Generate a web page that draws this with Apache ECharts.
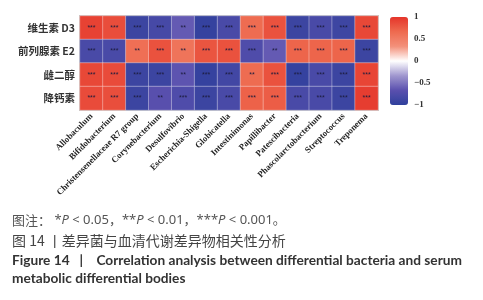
<!DOCTYPE html>
<html>
<head>
<meta charset="utf-8">
<script src="https://cdn.jsdelivr.net/npm/echarts@6/dist/echarts.min.js"></script>
<style>
html,body{margin:0;padding:0;background:#fff;}
#chart{width:483px;height:300px;}
</style>
</head>
<body>
<div id="chart"></div>
<script>
// 菌属（横轴）
var bacteria = ['Allobaculum', 'Bifidobacterium', 'Christensenellaceae R7 group', 'Corynebacterium',
	'Desulfovibrio', 'Escherichia-Shigella', 'Globicatella', 'Intestinimonas', 'Papillibacter',
	'Patescibacteria', 'Phascolarctobacterium', 'Streptococcus', 'Treponema'];
// 代谢物（纵轴，从上到下）
var metabolites = ['维生素 D3', '前列腺素 E2', '雌二醇', '降钙素'];
// 相关系数
var vitD3 = [0.92, 0.85, -0.9, -0.82, -0.62, -0.95, -0.8, 0.65, 0.82, -0.9, -0.8, -0.88, 0.88];
var pge2 = [-0.8, -0.8, 0.62, 0.82, 0.58, 0.8, 0.82, -0.75, -0.62, 0.7, 0.7, 0.7, -0.9];
var estradiol = [0.88, 0.86, -0.9, -0.9, -0.65, -0.95, -0.85, 0.65, 0.82, -0.95, -0.8, -0.9, 0.9];
var calcitonin = [0.86, 0.84, -0.9, -0.68, -0.75, -0.9, -0.8, 0.72, 0.75, -0.8, -0.8, -0.9, 0.95];
// 显著性
var starD3 = ['***', '***', '***', '***', '**', '***', '***', '***', '***', '***', '***', '***', '***'];
var starE2 = ['***', '***', '**', '***', '**', '***', '***', '***', '**', '***', '***', '***', '***'];
var starEst = ['***', '***', '***', '***', '**', '***', '***', '**', '***', '***', '***', '***', '***'];
var starCal = ['***', '***', '***', '**', '***', '***', '***', '***', '***', '***', '***', '***', '***'];

var rows = [vitD3, pge2, estradiol, calcitonin];
var stars = [starD3, starE2, starEst, starCal];
var heatData = [];
for (var r = 0; r < rows.length; r++) {
	for (var c = 0; c < bacteria.length; c++) {
		heatData.push([c, r, rows[r][c], stars[r][c]]);
	}
}

var chart = echarts.init(document.getElementById('chart'));
var option = {
	backgroundColor: '#fff',
	animation: false,
	grid: [
		{left: 80, top: 16, width: 298, height: 94, show: true, borderColor: '#c4c4c4', borderWidth: 2, backgroundColor: 'transparent'},
		{left: 390, top: 17, width: 18, height: 88, show: false}
	],
	xAxis: [{
		type: 'category', gridIndex: 0, data: bacteria,
		axisLine: {show: false},
		axisTick: {alignWithLabel: true, length: 3, lineStyle: {color: '#333'}},
		axisLabel: {rotate: 45, interval: 0, margin: 5, fontSize: 8.8, fontWeight: 'bold',
			fontFamily: 'Liberation Serif', color: '#222'},
		splitLine: {show: false}
	}, {
		type: 'value', gridIndex: 1, show: false, min: 0, max: 1
	}],
	yAxis: [{
		type: 'category', gridIndex: 0, data: metabolites, inverse: true,
		axisLine: {show: false},
		axisTick: {alignWithLabel: true, length: 3, lineStyle: {color: '#333'}},
		axisLabel: {fontSize: 10.5, fontWeight: 'bold', fontFamily: 'Noto Sans CJK SC', color: '#333', margin: 5},
		splitLine: {show: false}
	}, {
		type: 'value', gridIndex: 1, position: 'right', min: -1, max: 1, interval: 0.5,
		axisLine: {show: false}, axisTick: {show: false}, splitLine: {show: false},
		axisLabel: {fontSize: 9, fontWeight: 'bold', fontFamily: 'Liberation Serif', color: '#333', margin: 6,
			formatter: function (v) { return v < 0 ? '\u2212' + Math.abs(v) : String(v); }}
	}],
	visualMap: {
		type: 'continuous', min: -1, max: 1, seriesIndex: 0, dimension: 2, calculable: false,
		left: 390, top: 17, itemWidth: 18, itemHeight: 88, padding: 0, text: null, showLabel: false,
		inRange: {color: ['#2f409c', '#5a50ae', '#a097cf', '#ffffff', '#f3907a', '#ee6a4f', '#e5352a']}
	},
	series: [{
		type: 'heatmap', xAxisIndex: 0, yAxisIndex: 0, data: heatData,
		itemStyle: {borderColor: 'rgba(255,255,255,0.35)', borderWidth: 1},
		label: {show: true, fontSize: 7, color: '#1c1c3c',
			formatter: function (p) { return p.data[3]; }},
		emphasis: {disabled: true}
	}, {
		type: 'scatter', xAxisIndex: 1, yAxisIndex: 1, data: [], silent: true
	}],
	graphic: [
		{type: 'text', left: 12, top: 214, style: {
			text: '图注：{s| *}{i|P}{s| < 0.05，**}{i|P}{s| < 0.01，***}{i|P}{s| < 0.001。}',
			fontSize: 13, fill: '#555', fontFamily: 'Noto Sans CJK SC',
			rich: {s: {fontSize: 13, fill: '#555', fontFamily: 'Noto Sans, Noto Sans CJK SC'},
				i: {fontSize: 13, fill: '#555', fontStyle: 'italic', fontFamily: 'Noto Sans'}}}},
		{type: 'text', left: 12, top: 234, style: {text: '图 14 丨差异菌与血清代谢差异物相关性分析', fontSize: 14, fill: '#444', fontFamily: 'Noto Sans CJK SC'}},
		{type: 'text', left: 12, top: 254, style: {text: 'Figure 14   |    Correlation analysis between differential bacteria and serum', fontSize: 13.7, fontWeight: 'bold', fill: '#333', fontFamily: 'Lato'}},
		{type: 'text', left: 12, top: 272, style: {text: 'metabolic differential bodies', fontSize: 13.7, fontWeight: 'bold', fill: '#333', fontFamily: 'Lato'}}
	]
};
chart.setOption(option);
</script>
</body>
</html>
